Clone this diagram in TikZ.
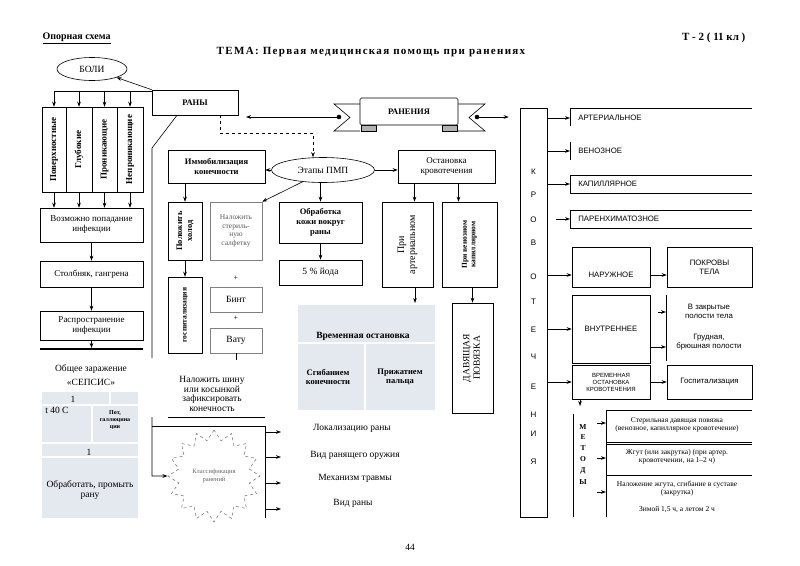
\documentclass[tikz,border=0pt]{standalone}
\usepackage{fontspec}
\setmainfont{Liberation Serif}
\newfontfamily\capsfont{Liberation Sans}
\usepackage{graphicx}
\usetikzlibrary{arrows.meta, shapes.geometric, positioning, calc}

\definecolor{cellfill}{RGB}{228,232,239}
\newcommand{\vtext}[1]{\rotatebox{90}{\begin{tabular}{@{}c@{}}#1\end{tabular}}}

\tikzset{
  box/.style={draw, inner sep=1pt, align=center, font=\fontsize{9}{10}\selectfont},
  boldbox/.style={box, font=\bfseries\fontsize{8.5}{10}\selectfont},
  rbox/.style={draw, inner sep=1pt, align=center, font=\capsfont\fontsize{7.8}{9}\selectfont},
  rtext/.style={inner sep=1pt, align=center, font=\capsfont\fontsize{7.8}{9}\selectfont},
  plain/.style={inner sep=1pt, align=center, font=\fontsize{9.5}{10.5}\selectfont},
  mtext/.style={inner sep=1pt, align=center, font=\fontsize{7.5}{8}\selectfont},
  letter/.style={inner sep=0pt, font=\capsfont\fontsize{8}{8}\selectfont},
  mletter/.style={inner sep=0pt, font=\bfseries\fontsize{7.5}{8}\selectfont},
}

\begin{document}
\begin{tikzpicture}[x=1pt, y=-1pt, line width=0.6pt, >={Stealth[length=5pt,width=3.6pt]}]
    \useasboundingbox (0,0) rectangle (800,565);

    % Header
    \node[anchor=west, font=\bfseries\fontsize{10}{12}\selectfont] (hdr) at (39,38) {\underline{Опорная схема}};
    \node[anchor=east, font=\bfseries\fontsize{11}{12}\selectfont] (grade) at (749,38) {Т - 2 ( 11 кл )};
    \node[font=\bfseries\fontsize{11}{12}\selectfont\addfontfeature{LetterSpace=12}] (theme) at (371,52) {ТЕМА: Первая медицинская помощь при ранениях};

    % Wounds and pain
    \node[draw, ellipse, minimum width=70, minimum height=23, font=\fontsize{9.5}{10}\selectfont] (boli) at (92,69) {БОЛИ};
    \node[boldbox, minimum width=86, minimum height=25] (rany) at (195,102.5) {РАНЫ};
    \draw[->] (rany.north west) -- (boli);

    % Kinds of wounds
    \foreach \nm/\xx/\ww/\txt in {col1/54/24/Поверхностные, col2/79/26/Глубокие, col3/104.5/25/Проникающие, col4/130/26/Непроникающие}
        \node[boldbox, font=\bfseries\fontsize{9}{10}\selectfont, minimum width=\ww, minimum height=85] (\nm) at (\xx,149.5) {\vtext{\txt}};
    \coordinate (bus) at (54,91);
    \draw (bus) -- (bus -| rany.west);
    \foreach \c in {col1,col2,col3,col4}
        \draw[->] (\c.north |- bus) -- (\c.north);

    % Infection chain
    \node[box, minimum width=103, minimum height=34] (infect) at (91.5,225) {Возможно попадание\\инфекции};
    \foreach \c in {col1,col2,col3,col4}
        \draw[->] (\c.south) -- (\c.south |- infect.north);
    \node[box, minimum width=103, minimum height=26] (tetan) at (91.5,274) {Столбняк, гангрена};
    \node[box, minimum width=103, minimum height=29] (spread) at (91.5,325.5) {Распространение\\инфекции};
    \draw[->] (infect) -- (tetan);
    \draw[->] (tetan) -- (spread);
    \draw[line width=2pt] (40,349) -- (143,349);
    \coordinate (sline) at (91.5,348);
    \draw[->] (spread) -- (sline);

    % Sepsis
    \node[plain, font=\fontsize{9.5}{14}\selectfont] (sepsis) at (91,375) {Общее заражение\\«СЕПСИС»};
    \fill[cellfill] (42,392) rectangle (138,518);
    \draw[white, line width=1.2pt] (42,405) -- (138,405) (42,443) -- (138,443) (42,457) -- (138,457)
        (110,392) -- (110,405) (92,405) -- (92,443);
    \node[plain] (s1) at (73,399) {1};
    \node[plain, anchor=west] (s2) at (44,410) {t 40 С};
    \node[plain, font=\bfseries\fontsize{6}{7}\selectfont] (s3) at (115,420) {Пот,\\галлюцина\\ции};
    \node[plain] (s4) at (89,452) {1};
    \node[plain] (s5) at (90,490) {Обработать, промыть\\рану};

    % Stages of first aid
    \node[draw, ellipse, minimum width=103, minimum height=25, font=\fontsize{9.5}{10}\selectfont] (etapy) at (323,170) {Этапы ПМП};
    \node[boldbox, minimum width=97, minimum height=33] (immob) at (216.5,166.5) {Иммобилизация\\конечности};
    \node[box, minimum width=97, minimum height=33] (ost) at (446.5,166.5) {Остановка\\кровотечения};
    \draw[dashed, ->] ([xshift=25]rany.south) -- ++(0,18) -| ([xshift=-10]etapy.north);
    \draw[->] (etapy.west) -- (etapy.west -| immob.east);
    \draw[->] (etapy.east) -- (etapy.east -| ost.west);

    \node[boldbox, minimum width=34, minimum height=58] (cold) at (185,231) {\vtext{Положить\\холод}};
    \node[boldbox, font=\bfseries\fontsize{7.5}{8.5}\selectfont, minimum width=34, minimum height=76] (hosp) at (185,315) {\vtext{госпитализация}};
    \node[box, draw=gray, text=gray!70!black, font=\fontsize{7.5}{8.5}\selectfont, minimum width=52, minimum height=58] (napkin) at (236,231) {Наложить\\стериль-\\ную\\салфетку};
    \node[plain, font=\fontsize{8}{9}\selectfont] (plus1) at (236,278) {+};
    \node[box, draw=gray, font=\fontsize{9.5}{10}\selectfont, minimum width=52, minimum height=25] (bint) at (236,299.5) {Бинт};
    \node[plain, font=\fontsize{8}{9}\selectfont] (plus2) at (236,318) {+};
    \node[box, draw=gray, font=\fontsize{9.5}{10}\selectfont, minimum width=52, minimum height=25] (vatu) at (236,340.5) {Вату};
    \coordinate (vtick) at (236,360);
    \draw (vatu.south) -- (vtick);
    \draw[->] (cold.north |- immob.south) -- (cold.north);
    \draw[->] (cold) -- (hosp);
    \draw[->] (etapy.210) -- (napkin.north east);

    \node[boldbox, minimum width=83, minimum height=41] (obrab) at (320.5,222.5) {Обработка\\кожи вокруг\\раны};
    \node[box, font=\fontsize{9.5}{10}\selectfont, minimum width=83, minimum height=25] (iod) at (320.5,272.5) {5 \% йода};
    \draw[->] (obrab.north |- etapy.south) -- (obrab.north);
    \draw[->] (obrab) -- (iod);

    \node[box, font=\fontsize{10}{11}\selectfont, minimum width=51, minimum height=85] (arter) at (407.5,244.5) {\vtext{При\\артериальном}};
    \node[boldbox, font=\bfseries\fontsize{7.5}{8.5}\selectfont, minimum width=55, minimum height=85] (venous) at (469.5,244.5) {\vtext{При венозном\\капиллярном}};
    \draw[->] ([xshift=7]arter.north |- ost.south) -- ([xshift=7]arter.north);
    \draw[->] ([xshift=-11]venous.north |- ost.south) -- ([xshift=-11]venous.north);

    % Temporary stop
    \fill[cellfill] (298,305) rectangle (435,410);
    \draw[white, line width=1.2pt] (298,343) -- (435,343) (365,343) -- (365,410);
    \node[plain, font=\bfseries\fontsize{9.5}{10}\selectfont] (vremst) at (363,336) {Временная остановка};
    \node[plain, font=\bfseries\fontsize{8.5}{9.5}\selectfont] (sgib) at (328,377) {Сгибанием\\конечности};
    \node[plain, font=\bfseries\fontsize{8.5}{9.5}\selectfont] (prizh) at (400,377) {Прижатием\\пальца};
    \coordinate (vtop) at (415,303);
    \draw[->] (arter.south -| vtop) -- (vtop);
    \node[box, font=\fontsize{9.5}{10.5}\selectfont, minimum width=41, minimum height=110] (press) at (472.5,358) {\vtext{ДАВЯЩАЯ\\ПОВЯЗКА}};
    \draw[->] (press.north |- venous.south) -- (press.north);

    % Left line and classification
    \coordinate (bend) at (152,148);
    \coordinate (lend) at (152,358);
    \draw ([xshift=-18]rany.south) -- (bend) -- (lend);
    \node[plain, font=\fontsize{9.5}{9.6}\selectfont] (shina) at (212,394) {Наложить шину\\или косынкой\\зафиксировать\\конечность};
    \node[draw=gray, dashed, star, star points=16, star point ratio=1.28, minimum size=92, inner sep=0pt, text=gray!80!black, align=center, font=\fontsize{6.5}{7.5}\selectfont] (klass) at (214,476) {Классификация\\ранений};
    \coordinate (ftop) at (152,417);
    \draw[->] (ftop) -- (ftop |- klass) -- (klass);
    \draw (168,417) -- (265,417);
    \draw (152,426) -- (265,426) -- (265,518);
    \foreach \nm/\yy in {loc/432, weap/457, mech/483, kind/509} {
        \coordinate (\nm s) at (265,\yy);
        \coordinate (\nm e) at (281,\yy);
        \draw[->] (\nm s) -- (\nm e);
    }
    \node[plain] (loc) at (352,428) {Локализацию раны};
    \node[plain] (weap) at (355,455) {Вид ранящего оружия};
    \node[plain] (mech) at (355,478) {Механизм травмы};
    \node[plain] (kind) at (353,503) {Вид раны};

    % Injuries banner
    \draw[fill=white] (360,104) -- (334,104) -- (350,117.5) -- (334,131) -- (360,131);
    \draw[fill=white] (458,104) -- (485,104) -- (469,117.5) -- (485,131) -- (458,131);
    \draw[fill=gray!60] (361,125) rectangle (376,131);
    \draw[fill=gray!60] (442,125) rectangle (457,131);
    \node[draw, fill=white, rounded corners=1.5pt, minimum width=98, minimum height=27, font=\bfseries\fontsize{8.5}{9}\selectfont] (ranen) at (409,111.5) {РАНЕНИЯ};

    % Bleeding
    \node[draw, minimum width=27, minimum height=409] (krov) at (533.5,312.5) {};
    \foreach \ch/\yy [count=\i] in {К/172, Р/195, О/220, В/243, О/277, Т/302, Е/330, Ч/357, Е/387, Н/415, И/434, Я/462}
        \node[letter] (k\i) at (533.5,\yy) {\ch};

    \coordinate (ldot) at (339,117);
    \coordinate (rtip) at (246,117);
    \fill (ldot) circle (2.3pt);
    \draw[->] (ldot) -- (rtip);
    \coordinate (rdot) at (477,117);
    \fill (rdot) circle (2.3pt);
    \draw[->, shorten >=11pt] (rdot) -- (rdot -| krov.west);

    \node[rtext, anchor=west, inner xsep=8pt] (art) at (570,118) {АРТЕРИАЛЬНОЕ};
    \node[rtext, anchor=west, inner xsep=8pt] (ven) at (570,151) {ВЕНОЗНОЕ};
    \node[rtext, anchor=west, inner xsep=8pt] (kap) at (570,184) {КАПИЛЛЯРНОЕ};
    \node[rtext, anchor=west, inner xsep=8pt] (par) at (570,219) {ПАРЕНХИМАТОЗНОЕ};
    \draw (570,126) -- (570,108) -- (752,108);
    \draw (570,142) -- (570,160);
    \draw (752,175) -- (570,175) -- (570,193) -- (752,193);
    \draw (752,210) -- (570,210) -- (570,228) -- (752,228);
    \foreach \nm in {art,ven,kap}
        \draw[->] (krov.east |- \nm.west) -- (\nm.west);
    \draw[->] ([xshift=-14]par.west) -- (par.west);

    \node[rbox, minimum width=78, minimum height=40] (nar) at (611,267) {};
    \node[rtext] (narT) at (611,275) {НАРУЖНОЕ};
    \node[rbox, minimum width=85, minimum height=40] (pokr) at (709.5,267) {ПОКРОВЫ\\ТЕЛА};
    \draw[->] (krov.east |- narT) -- (nar.west |- narT);
    \draw[->] (nar.east |- narT) -- (pokr.west |- narT);

    \node[rbox, minimum width=78, minimum height=68] (vnut) at (611,329) {ВНУТРЕННЕЕ};
    \draw[->] (krov.east |- vnut) -- (vnut.west);
    \coordinate (vbt) at (666,295);
    \coordinate (vbb) at (666,361);
    \draw (vbt) -- (vbb);
    \node[rtext] (cav) at (709,311) {В закрытые\\полости тела};
    \node[rtext] (chest) at (709,342) {Грудная,\\брюшная полости};
    \coordinate (vc) at (658,312);
    \coordinate (vd) at (666,312);
    \coordinate (ve) at (666,347);
    \draw[->] (vc) -- (vd);
    \draw[->] (vnut.east |- ve) -- (ve);

    \node[rbox, font=\capsfont\fontsize{6}{7}\selectfont, minimum width=78, minimum height=34] (vrem) at (611,382) {ВРЕМЕННАЯ\\ОСТАНОВКА\\КРОВОТЕЧЕНИЯ};
    \node[rbox, minimum width=85, minimum height=34] (gosp) at (709.5,382) {Госпитализация};
    \draw[->] (krov.east |- vrem) -- (vrem.west);
    \draw[->] (vrem) -- (gosp);

    % Methods
    \coordinate (mtip) at (580,406);
    \draw[->] (vrem.south west -| mtip) -- (mtip);
    \draw (573,414) -- (573,517);
    \foreach \ch/\yy [count=\i] in {М/427, Е/437, Т/448, О/459, Д/471, Ы/482}
        \node[mletter] (m\i) at (583,\yy) {\ch};
    \draw (606,410) -- (606,517);
    \draw (752,410) -- (606,410) (606,442) -- (752,442) (606,444) -- (752,444) (606,475) -- (752,475);
    \foreach \i/\yy in {1/423, 2/458, 3/492} {
        \coordinate (ma\i) at (597,\yy);
        \coordinate (mb\i) at (606,\yy);
        \draw[->] (ma\i) -- (mb\i);
    }
    \node[mtext] (mt1) at (677,425) {Стерильная давящая повязка\\(венозное, капиллярное кровотечение)};
    \node[mtext] (mt2) at (677,457) {Жгут (или закрутка) (при артер.\\кровотечении, на 1--2 ч)};
    \node[mtext] (mt3) at (677,489) {Наложение жгута, сгибание в суставе\\(закрутка)};
    \node[mtext] (mt4) at (677,510) {Зимой 1,5 ч, а летом 2 ч};

    % Page number
    \node[plain] (pg) at (410,547) {44};
\end{tikzpicture}
\end{document}
